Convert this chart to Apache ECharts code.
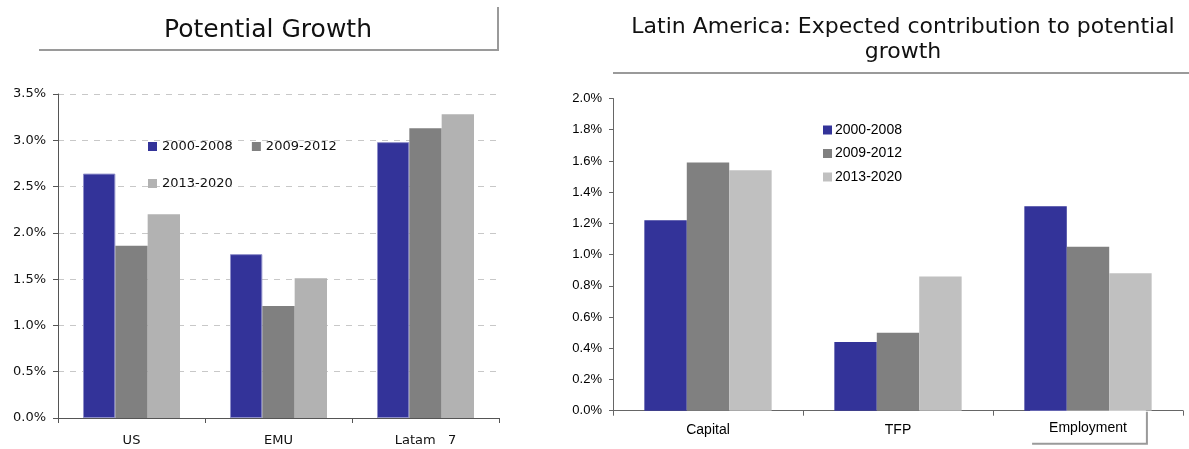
<!DOCTYPE html>
<html>
<head>
<meta charset="utf-8">
<script src="https://cdn.jsdelivr.net/npm/echarts@6/dist/echarts.min.js"></script>
<style>
  html, body { margin: 0; padding: 0; background: #fff; }
  #chart { width: 1189px; height: 449px; }
</style>
</head>
<body>
<div id="chart"></div>
<script>
// Potential growth by region (% per year)
const growthRegions = ['US', 'EMU', 'Latam   7'];
const growth2000_2008 = [2.64, 1.77, 2.98];
const growth2009_2012 = [1.86, 1.21, 3.13];
const growth2013_2020 = [2.20, 1.51, 3.28];

// Latin America: contribution to potential growth (% per year)
const factors = ['Capital', 'TFP', 'Employment'];
const contrib2000_2008 = [1.22, 0.44, 1.31];
const contrib2009_2012 = [1.59, 0.50, 1.05];
const contrib2013_2020 = [1.54, 0.86, 0.88];

const periods = ['2000-2008', '2009-2012', '2013-2020'];
const leftTicks = { min: 0, max: 3.5, interval: 0.5 };
const rightTicks = { min: 0, max: 2.0, interval: 0.2 };

const BLUE = '#333399', GRAY = '#808080', LIGHT_L = '#B2B2B2', LIGHT_R = '#C0C0C0';
const LEFT_FONT = 'DejaVu Sans';
const RIGHT_FONT = 'Liberation Sans';

const chart = echarts.init(document.getElementById('chart'), null, { renderer: 'canvas' });

const pct = v => v.toFixed(1) + '%';

chart.setOption({
  animation: false,
  backgroundColor: '#fff',
  grid: [
    { left: 58, right: 690, top: 94, bottom: 31, outerBoundsMode: 'none', containLabel: false },
    { left: 613, right: 6, top: 98.5, bottom: 38.3, outerBoundsMode: 'none', containLabel: false }
  ],
  legend: [
    {
      data: [periods[0], periods[1]],
      orient: 'horizontal',
      left: 148, top: 140, padding: 0,
      itemWidth: 9, itemHeight: 9, itemGap: 19,
      icon: 'rect',
      itemStyle: { borderWidth: 0 },
      textStyle: { fontFamily: LEFT_FONT, fontSize: 13, color: '#111' },
      selectedMode: false
    },
    {
      data: [{ name: periods[2], itemStyle: { color: LIGHT_L } }],
      orient: 'horizontal',
      left: 148, top: 177, padding: 0,
      itemWidth: 9, itemHeight: 9,
      icon: 'rect',
      itemStyle: { borderWidth: 0 },
      textStyle: { fontFamily: LEFT_FONT, fontSize: 13, color: '#111' },
      selectedMode: false
    },
    {
      data: [
        { name: periods[0], itemStyle: { color: BLUE } },
        { name: periods[1], itemStyle: { color: GRAY } },
        { name: periods[2], itemStyle: { color: LIGHT_R } }
      ],
      orient: 'vertical',
      left: 823, top: 123, padding: 0,
      itemWidth: 9, itemHeight: 9, itemGap: 9.5,
      icon: 'rect',
      itemStyle: { borderWidth: 0 },
      textStyle: { fontFamily: RIGHT_FONT, fontSize: 14, color: '#000', padding: [0, 0, 0, -2] },
      selectedMode: false
    }
  ],
  xAxis: [
    {
      type: 'category', gridIndex: 0, data: growthRegions,
      axisLine: { lineStyle: { color: '#555', width: 1 } },
      axisTick: { show: true, length: 5, lineStyle: { color: '#555' } },
      axisLabel: { fontFamily: LEFT_FONT, fontSize: 13, color: '#111', margin: 16 }
    },
    {
      type: 'category', gridIndex: 1, data: factors,
      axisLine: { lineStyle: { color: '#666', width: 1 } },
      axisTick: { show: true, length: 5, lineStyle: { color: '#666' } },
      axisLabel: {
        fontFamily: RIGHT_FONT, fontSize: 14, color: '#000', margin: -1,
        // Employment sits in a white box with a grey drop edge that breaks the axis line
        formatter: v => v === 'Employment' ? '{box|' + v + '}' : '{plain|' + v + '}',
        rich: {
          plain: {
            fontFamily: RIGHT_FONT, fontSize: 14, color: '#000',
            padding: [13, 0, 8, 0]
          },
          box: {
            fontFamily: RIGHT_FONT, fontSize: 14, color: '#000',
            backgroundColor: '#fff',
            padding: [11, 19, 8, 19],
            shadowColor: '#9a9a9a', shadowOffsetX: 2, shadowOffsetY: 2, shadowBlur: 0
          }
        }
      }
    }
  ],
  yAxis: [
    {
      type: 'value', gridIndex: 0,
      min: leftTicks.min, max: leftTicks.max, interval: leftTicks.interval,
      axisLine: { show: true, lineStyle: { color: '#555', width: 1 } },
      axisTick: { show: true, length: 5, lineStyle: { color: '#555' } },
      axisLabel: { fontFamily: LEFT_FONT, fontSize: 13, color: '#111', margin: 12, formatter: pct },
      splitLine: { show: true, lineStyle: { color: '#c8c8c8', type: [6, 6], width: 1 } }
    },
    {
      type: 'value', gridIndex: 1,
      min: rightTicks.min, max: rightTicks.max, interval: rightTicks.interval,
      axisLine: { show: true, lineStyle: { color: '#666', width: 1 } },
      axisTick: { show: true, length: 4, lineStyle: { color: '#666' } },
      axisLabel: { fontFamily: RIGHT_FONT, fontSize: 13, color: '#000', margin: 11, formatter: pct },
      splitLine: { show: false }
    }
  ],
  series: [
    {
      name: periods[0], type: 'bar', xAxisIndex: 0, yAxisIndex: 0, data: growth2000_2008,
      barGap: '0%', barCategoryGap: '34%',
      itemStyle: { color: BLUE, borderColor: '#8f8fc9', borderWidth: 1 }
    },
    {
      name: periods[1], type: 'bar', xAxisIndex: 0, yAxisIndex: 0, data: growth2009_2012,
      barGap: '0%', barCategoryGap: '34%',
      itemStyle: { color: GRAY }
    },
    {
      name: periods[2], type: 'bar', xAxisIndex: 0, yAxisIndex: 0, data: growth2013_2020,
      barGap: '0%', barCategoryGap: '34%',
      itemStyle: { color: LIGHT_L }
    },
    {
      name: periods[0], type: 'bar', xAxisIndex: 1, yAxisIndex: 1, data: contrib2000_2008,
      barGap: '0%', barCategoryGap: '33%',
      itemStyle: { color: BLUE }
    },
    {
      name: periods[1], type: 'bar', xAxisIndex: 1, yAxisIndex: 1, data: contrib2009_2012,
      barGap: '0%', barCategoryGap: '33%',
      itemStyle: { color: GRAY }
    },
    {
      name: periods[2], type: 'bar', xAxisIndex: 1, yAxisIndex: 1, data: contrib2013_2020,
      barGap: '0%', barCategoryGap: '33%',
      itemStyle: { color: LIGHT_R }
    }
  ],
  graphic: [
    // left title and its frame (bottom + right edge)
    {
      type: 'text',
      style: {
        text: 'Potential Growth', x: 268, y: 30,
        font: '25px "DejaVu Sans"', fill: '#111',
        textAlign: 'center', textVerticalAlign: 'middle'
      }
    },
    {
      type: 'polyline',
      shape: { points: [[39, 50], [498, 50], [498, 7]] },
      style: { stroke: '#9a9a9a', lineWidth: 2, fill: null }
    },
    // right title and its underline
    {
      type: 'text',
      style: {
        text: 'Latin America: Expected contribution to potential\ngrowth',
        x: 903, y: 40, lineHeight: 25,
        font: '22px "DejaVu Sans"', fill: '#111',
        textAlign: 'center', textVerticalAlign: 'middle'
      }
    },
    {
      type: 'line',
      shape: { x1: 613, y1: 73, x2: 1189, y2: 73 },
      style: { stroke: '#9a9a9a', lineWidth: 2 }
    }
  ]
});
</script>
</body>
</html>
